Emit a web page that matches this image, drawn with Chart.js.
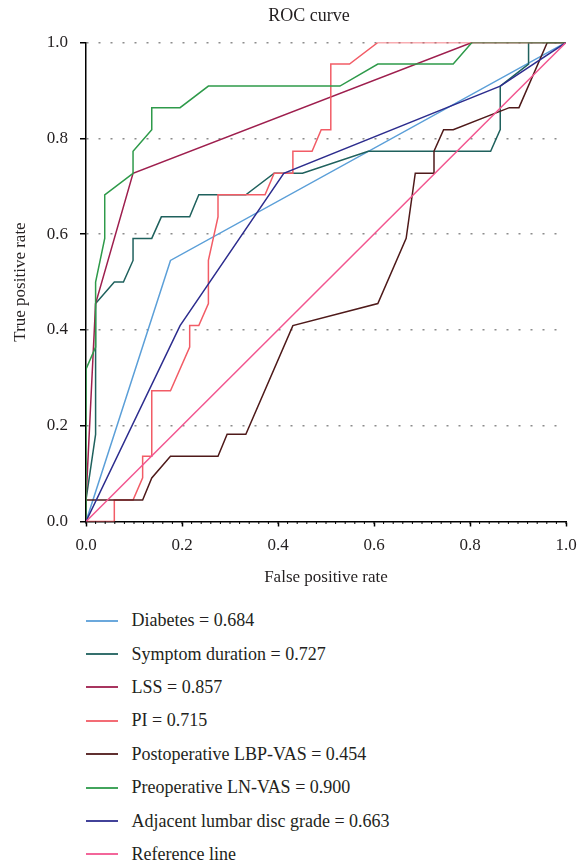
<!DOCTYPE html>
<html>
<head>
<meta charset="utf-8">
<script src="https://cdn.jsdelivr.net/npm/chart.js@4.4.1/dist/chart.umd.min.js"></script>
<style>
    html, body { margin: 0; padding: 0; background: #fff; }
    body {
        width: 578px; height: 866px; position: relative; overflow: hidden;
        font-family: "Liberation Serif", "DejaVu Serif", serif; color: #231f20;
    }
    #chart-wrap { position: absolute; left: 0; top: 0; width: 578px; height: 600px; }
    #chart-title {
        position: absolute; top: 5px; left: 209px; width: 200px;
        text-align: center; font-size: 18px; line-height: 20px;
    }
    #legend { position: absolute; left: 86px; top: 604px; }
    .legend-row { display: flex; align-items: center; height: 33.4px; font-size: 18px; white-space: nowrap; }
    .legend-line { width: 32px; height: 2px; margin-right: 13.5px; opacity: 0.9; }
</style>
</head>
<body>
<div id="chart-wrap"><canvas id="roc-chart" width="578" height="600"></canvas></div>
<div id="chart-title">ROC curve</div>
<div id="legend"></div>

<script>
const X_TICKS = [0, 0.2, 0.4, 0.6, 0.8, 1.0];
const Y_TICKS = [0, 0.2, 0.4, 0.6, 0.8, 1.0];
const X_MINOR = Array.from({ length: 51 }, (_, i) => i / 50);

const LABELS = [
    "Diabetes = 0.684",
    "Symptom duration = 0.727",
    "LSS = 0.857",
    "PI = 0.715",
    "Postoperative LBP-VAS = 0.454",
    "Preoperative LN-VAS = 0.900",
    "Adjacent lumbar disc grade = 0.663",
    "Reference line",
];

const COLORS = [
    "#5b9fd8", "#1f615d", "#9e1f4e", "#f25c66",
    "#4f1a1a", "#2e9a4a", "#2d2d8e", "#f2558f",
];

// false positive rate / true positive rate
const DIABETES_FPR = [0, 0.176, 1];
const DIABETES_TPR = [0, 0.545, 1];

const DURATION_FPR = [0, 0, 0.020, 0.020, 0.059, 0.078, 0.098, 0.098, 0.137, 0.157, 0.216, 0.235, 0.333, 0.392, 0.451, 0.588, 0.843, 0.863, 0.863, 0.922, 0.922, 1];
const DURATION_TPR = [0, 0.045, 0.182, 0.455, 0.500, 0.500, 0.545, 0.591, 0.591, 0.636, 0.636, 0.682, 0.682, 0.727, 0.727, 0.773, 0.773, 0.818, 0.909, 0.955, 1, 1];

const LSS_FPR = [0, 0, 0.020, 0.098, 0.804, 1];
const LSS_TPR = [0, 0.045, 0.455, 0.727, 1, 1];

const PI_FPR = [0, 0.059, 0.059, 0.098, 0.118, 0.118, 0.137, 0.137, 0.176, 0.216, 0.216, 0.235, 0.255, 0.255, 0.275, 0.275, 0.373, 0.392, 0.431, 0.431, 0.471, 0.490, 0.510, 0.510, 0.549, 0.608, 1];
const PI_TPR = [0, 0, 0.045, 0.045, 0.091, 0.136, 0.136, 0.273, 0.273, 0.364, 0.409, 0.409, 0.455, 0.545, 0.636, 0.682, 0.682, 0.727, 0.727, 0.773, 0.773, 0.818, 0.818, 0.955, 0.955, 1, 1];

const POSTOP_FPR = [0, 0, 0.118, 0.137, 0.176, 0.275, 0.294, 0.333, 0.431, 0.608, 0.667, 0.686, 0.725, 0.725, 0.745, 0.765, 0.882, 0.902, 0.961, 1];
const POSTOP_TPR = [0, 0.045, 0.045, 0.091, 0.136, 0.136, 0.182, 0.182, 0.409, 0.455, 0.591, 0.727, 0.727, 0.773, 0.818, 0.818, 0.864, 0.864, 1, 1];

const PREOP_FPR = [0, 0, 0.020, 0.020, 0.039, 0.039, 0.098, 0.098, 0.137, 0.137, 0.196, 0.255, 0.529, 0.608, 0.765, 0.804, 1];
const PREOP_TPR = [0, 0.318, 0.364, 0.500, 0.591, 0.682, 0.727, 0.773, 0.818, 0.864, 0.864, 0.909, 0.909, 0.955, 0.955, 1, 1];

const ADJACENT_FPR = [0, 0.196, 0.412, 0.863, 1];
const ADJACENT_TPR = [0, 0.409, 0.727, 0.909, 1];

const REFERENCE_FPR = [0, 1];
const REFERENCE_TPR = [0, 1];

const SERIES = [
    [DIABETES_FPR, DIABETES_TPR],
    [DURATION_FPR, DURATION_TPR],
    [LSS_FPR, LSS_TPR],
    [PI_FPR, PI_TPR],
    [POSTOP_FPR, POSTOP_TPR],
    [PREOP_FPR, PREOP_TPR],
    [ADJACENT_FPR, ADJACENT_TPR],
    [REFERENCE_FPR, REFERENCE_TPR],
];

const FONT_FAMILY = '"Liberation Serif", "DejaVu Serif", serif';
const TEXT_COLOR = "#231f20";

function toPoints(xs, ys) {
    return xs.map((x, i) => ({ x: x, y: ys[i] }));
}

const minorTicks = {
    id: "minorTicks",
    afterDraw(chart) {
        const scale = chart.scales.x;
        const ctx = chart.ctx;
        const bottom = chart.chartArea.bottom;
        ctx.save();
        ctx.strokeStyle = "#000";
        ctx.lineWidth = 1;
        X_MINOR.forEach((v) => {
            const px = scale.getPixelForValue(v);
            ctx.beginPath();
            ctx.moveTo(px, bottom);
            ctx.lineTo(px, bottom + 2.5);
            ctx.stroke();
        });
        ctx.restore();
    },
};

const datasets = SERIES.map(([xs, ys], i) => ({
    label: LABELS[i],
    data: toPoints(xs, ys),
    borderColor: COLORS[i],
    backgroundColor: COLORS[i],
    borderWidth: 1.5,
    pointRadius: 0,
    showLine: true,
    fill: false,
    tension: 0,
    order: SERIES.length - i,
}));

const ctx = document.getElementById("roc-chart").getContext("2d");

new Chart(ctx, {
    type: "scatter",
    data: { datasets: datasets },
    options: {
        responsive: false,
        animation: false,
        events: [],
        layout: { padding: { top: 42.5, right: 12, bottom: 0, left: 0 } },
        plugins: {
            legend: { display: false },
            tooltip: { enabled: false },
        },
        scales: {
            x: {
                type: "linear",
                min: 0,
                max: 1,
                afterBuildTicks: (s) => { s.ticks = X_TICKS.map((v) => ({ value: v })); },
                afterFit: (s) => {
                    s.height = 78.5;
                    s.paddingLeft = 0;
                    s.paddingRight = 0;
                },
                ticks: {
                    callback: (v) => Number(v).toFixed(1),
                    color: TEXT_COLOR,
                    font: { family: FONT_FAMILY, size: 17 },
                    padding: 9,
                    maxRotation: 0,
                    autoSkip: false,
                },
                grid: {
                    drawOnChartArea: false,
                    tickLength: 5,
                    tickColor: "#000",
                    tickWidth: 1.5,
                },
                border: { color: "#000", width: 1.5 },
                title: {
                    display: true,
                    text: "False positive rate",
                    color: TEXT_COLOR,
                    font: { family: FONT_FAMILY, size: 17 },
                    padding: { top: 0, bottom: 12 },
                },
            },
            y: {
                type: "linear",
                min: 0,
                max: 1,
                afterBuildTicks: (s) => { s.ticks = Y_TICKS.map((v) => ({ value: v })); },
                afterFit: (s) => { s.width = 86; },
                ticks: {
                    callback: (v) => Number(v).toFixed(1),
                    color: TEXT_COLOR,
                    font: { family: FONT_FAMILY, size: 17 },
                    padding: 12,
                },
                grid: {
                    color: (c) => (c.tick && c.tick.value === 0 ? "rgba(0,0,0,0)" : "#8c8c8c"),
                    lineWidth: 1.5,
                    tickLength: 6,
                    tickColor: "#000",
                    tickWidth: 1.5,
                    tickBorderDash: [],
                },
                border: { color: "#000", width: 1.5, dash: [2, 10] },
                title: {
                    display: true,
                    text: "True positive rate",
                    color: TEXT_COLOR,
                    font: { family: FONT_FAMILY, size: 17 },
                    padding: { top: 10, bottom: 0 },
                },
            },
        },
    },
    plugins: [minorTicks],
});

document.getElementById("legend").innerHTML = LABELS.map((label, i) => `
    <div class="legend-row">
        <span class="legend-line" style="background:${COLORS[i]}"></span>
        <span>${label}</span>
    </div>
`).join("");
</script>
</body>
</html>
